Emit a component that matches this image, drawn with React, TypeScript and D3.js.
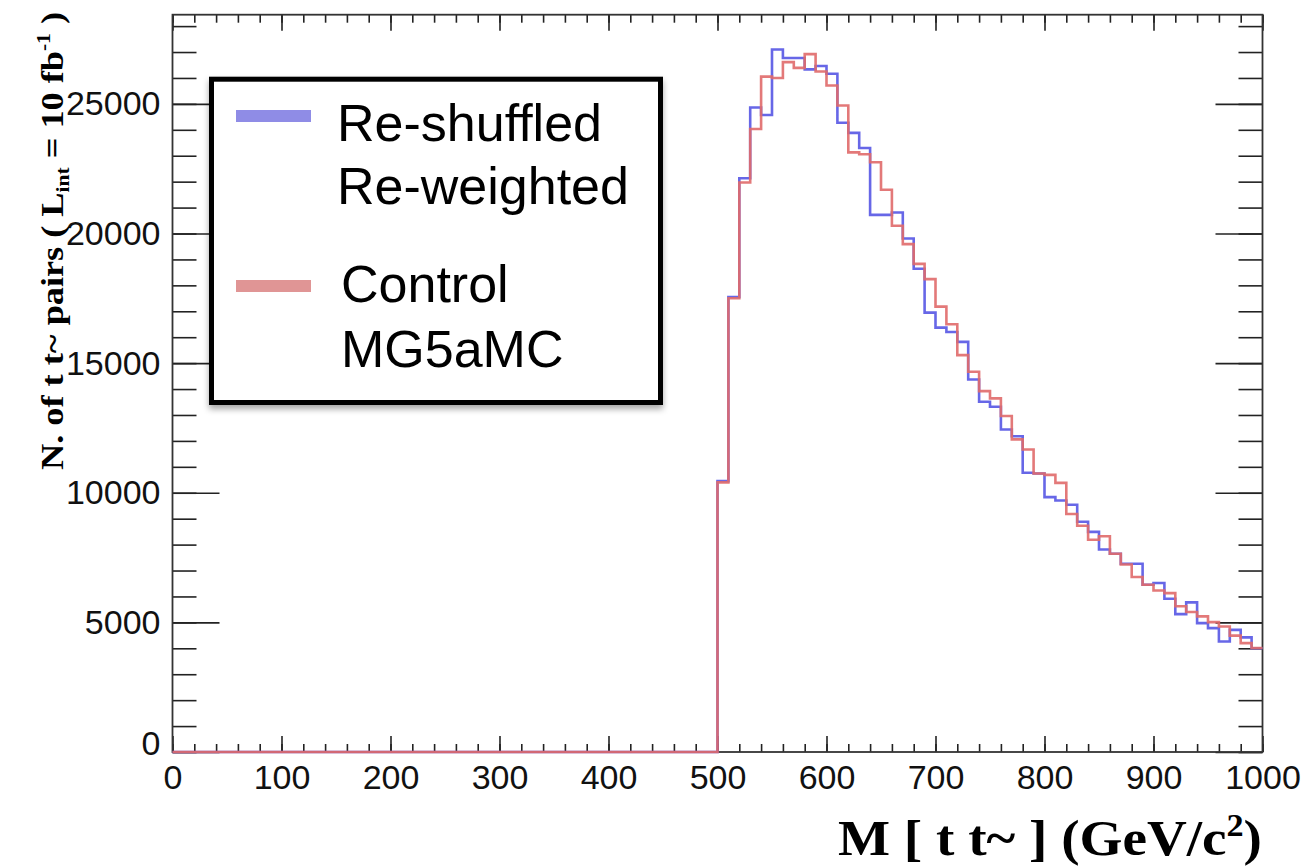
import { select, scaleLinear, axisBottom, axisTop, axisLeft, axisRight, line, curveStepAfter, range } from "d3";
import { useEffect, useRef } from "react";

// lower edges of the 10 GeV bins that are filled (everything below 500 is empty)
const binEdges = [
  500, 510, 520, 530, 540, 550, 560, 570, 580, 590,
  600, 610, 620, 630, 640, 650, 660, 670, 680, 690,
  700, 710, 720, 730, 740, 750, 760, 770, 780, 790,
  800, 810, 820, 830, 840, 850, 860, 870, 880, 890,
  900, 910, 920, 930, 940, 950, 960, 970, 980, 990,
];

const reshuffled = [
  10450, 17550, 22130, 24860, 24570, 27100, 26770, 26770, 26330, 26460,
  26160, 24270, 23880, 23300, 20720, 20720, 20810, 19810, 18640, 16950,
  16370, 16200, 15820, 14370, 13510, 13320, 12440, 12180, 10770, 10740,
  9830, 9700, 9540, 8880, 8490, 7810, 7650, 7260, 7260, 6450,
  6520, 5910, 5320, 5770, 4970, 4780, 4260, 4710, 4420, 4000,
];

const control = [
  10400, 17500, 21970, 24030, 26050, 26000, 26610, 26390, 26920, 26250,
  25710, 24940, 23130, 23060, 22750, 21690, 20300, 19590, 18830, 18240,
  17180, 16500, 15310, 14670, 13920, 13640, 12960, 12060, 11670, 10740,
  10690, 10380, 9180, 8730, 8190, 8320, 7650, 7230, 6750, 6450,
  6230, 6130, 5620, 5400, 5230, 5010, 4840, 4490, 4200, 4010,
];

const xTicks = [0, 100, 200, 300, 400, 500, 600, 700, 800, 900, 1000];
const yTicks = [0, 5000, 10000, 15000, 20000, 25000];

const xMin = 0;
const xMax = 1000;
const yMax = 28440;

const left = 172.5;
const right = 1262.5;
const top = 14.7;
const bottom = 752;

const blue = "#5656e4";
const red = "#e06a6a";

function App() {
  const svgRef = useRef();

  useEffect(() => {
    const svg = select(svgRef.current);

    const xScale = scaleLinear().domain([xMin, xMax]).range([left, right]);
    const yScale = scaleLinear().domain([0, yMax]).range([bottom, top]);

    const histPath = (values) => {
      const pts = [[xMin, 0]];
      values.forEach((v, i) => pts.push([binEdges[i], v]));
      pts.push([xMax, values[values.length - 1]]);
      return line()
        .x((d) => xScale(d[0]))
        .y((d) => yScale(d[1]))
        .curve(curveStepAfter)(pts);
    };

    svg
      .select(".hists")
      .selectAll("path")
      .data([
        { name: "reshuffled", values: reshuffled, color: blue },
        { name: "control", values: control, color: red },
      ])
      .join("path")
      .attr("d", (d) => histPath(d.values))
      .attr("fill", "none")
      .attr("stroke", (d) => d.color)
      .attr("stroke-width", 2.6)
      .attr("stroke-opacity", 0.9);

    const minorX = range(0, 1001, 20);
    const minorY = range(0, 28001, 1000);

    const styleAxis = (g) => {
      g.select(".domain").remove();
      g.selectAll("line").attr("stroke", "#222").attr("stroke-width", 1.6);
      g.selectAll("text")
        .attr("font-family", "'Liberation Sans', Arial, sans-serif")
        .attr("font-size", 34)
        .attr("fill", "#111");
    };

    svg
      .select(".x-minor")
      .attr("transform", `translate(0,${bottom})`)
      .call(axisBottom(xScale).tickValues(minorX).tickSize(-8).tickFormat(() => ""))
      .call(styleAxis);
    svg
      .select(".x-axis")
      .attr("transform", `translate(0,${bottom})`)
      .call(axisBottom(xScale).tickValues(xTicks).tickSize(-16).tickPadding(13).tickFormat((d) => `${d}`))
      .call(styleAxis);
    svg
      .select(".x-top-minor")
      .attr("transform", `translate(0,${top})`)
      .call(axisTop(xScale).tickValues(minorX).tickSize(-8).tickFormat(() => ""))
      .call(styleAxis);
    svg
      .select(".x-top")
      .attr("transform", `translate(0,${top})`)
      .call(axisTop(xScale).tickValues(xTicks).tickSize(-16).tickFormat(() => ""))
      .call(styleAxis);

    svg
      .select(".y-minor")
      .attr("transform", `translate(${left},0)`)
      .call(axisLeft(yScale).tickValues(minorY).tickSize(-24).tickFormat(() => ""))
      .call(styleAxis);
    svg
      .select(".y-axis")
      .attr("transform", `translate(${left},0)`)
      .call(axisLeft(yScale).tickValues(yTicks).tickSize(-47).tickPadding(12).tickFormat((d) => `${d}`))
      .call(styleAxis);
    // ROOT lifts the zero label a little
    svg
      .select(".y-axis")
      .selectAll(".tick text")
      .filter((d) => d === 0)
      .attr("dy", "0.08em");
    svg
      .select(".y-right-minor")
      .attr("transform", `translate(${right},0)`)
      .call(axisRight(yScale).tickValues(minorY).tickSize(-24).tickFormat(() => ""))
      .call(styleAxis);
    svg
      .select(".y-right")
      .attr("transform", `translate(${right},0)`)
      .call(axisRight(yScale).tickValues(yTicks).tickSize(-47).tickFormat(() => ""))
      .call(styleAxis);
  }, []);

  return (
    <svg
      ref={svgRef}
      width={1316}
      height={866}
      style={{ position: "absolute", left: 0, top: 0, background: "#fff" }}
    >
      <defs>
        <filter id="legendShadow" x="-10%" y="-10%" width="120%" height="125%">
          <feDropShadow dx="0" dy="4" stdDeviation="3" floodColor="#000" floodOpacity="0.35" />
        </filter>
      </defs>
      <rect x={0} y={0} width={1316} height={866} fill="#fff" />
      <g className="x-minor" />
      <g className="x-axis" />
      <g className="x-top-minor" />
      <g className="x-top" />
      <g className="y-minor" />
      <g className="y-axis" />
      <g className="y-right-minor" />
      <g className="y-right" />
      <rect
        x={left}
        y={top}
        width={right - left}
        height={bottom - top}
        fill="none"
        stroke="#333"
        strokeWidth={1.8}
      />
      <g className="hists" />

      {/* legend */}
      <rect
        x={211.5}
        y={79.2}
        width={449}
        height={323.3}
        fill="#fff"
        stroke="#000"
        strokeWidth={5}
        filter="url(#legendShadow)"
      />
      <rect x={236} y={110} width={75} height={12} fill="#8f8ce6" />
      <rect x={236} y={280} width={75} height={12} fill="#e09595" />
      <g fontFamily="'Liberation Sans', Arial, sans-serif" fontSize={52} fill="#000">
        <text x={337} y={140.5}>Re-shuffled</text>
        <text x={337} y={204}>Re-weighted</text>
        <text x={341} y={302}>Control</text>
        <text x={341} y={366.5}>MG5aMC</text>
      </g>

      {/* axis titles */}
      <text
        x={1262}
        y={855}
        textAnchor="end"
        fontFamily="'Liberation Serif', 'Times New Roman', serif"
        fontWeight="bold"
        fontSize={50}
        fill="#000"
        textLength={424}
        lengthAdjust="spacingAndGlyphs"
      >
        M [ t t~ ] (GeV/c<tspan dy={-19} fontSize={31}>2</tspan>
        <tspan dy={19}>)</tspan>
      </text>
      <text
        transform="translate(63,12) rotate(-90)"
        textAnchor="end"
        fontFamily="'Liberation Serif', 'Times New Roman', serif"
        fontWeight="bold"
        fontSize={32}
        fill="#000"
        textLength={458}
        lengthAdjust="spacingAndGlyphs"
      >
        N. of t t~ pairs ( L<tspan dy={6} fontSize={19}>int</tspan>
        <tspan dy={-6}> = 10 fb</tspan>
        <tspan dy={-13} fontSize={19}>-1</tspan>
        <tspan dy={13}> )</tspan>
      </text>
    </svg>
  );
}

export default App;
